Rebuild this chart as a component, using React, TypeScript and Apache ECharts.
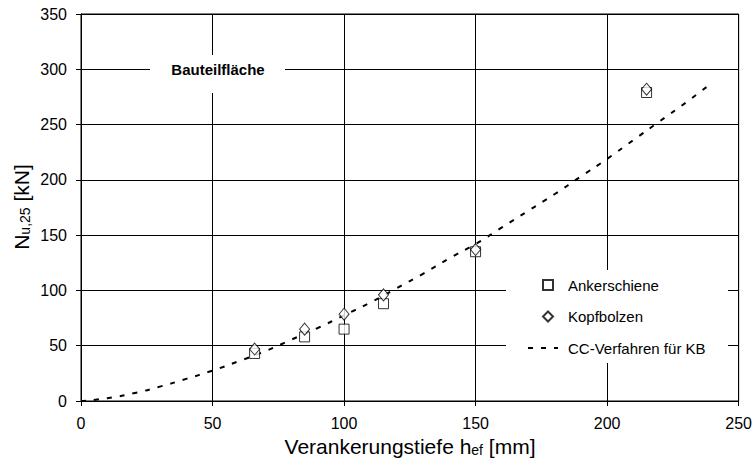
import React, { useEffect, useRef } from "react";
import * as echarts from "echarts";

// Versuchswerte: Verankerungstiefe h_ef [mm] und Bruchlast N_u,25 [kN]
const hefTests = [66, 85, 100, 115, 150, 215];
const ankerschiene = [43, 58, 65, 88, 135, 279];
const kopfbolzen = [47, 65, 78.5, 96, 137, 282];

// Rechnerische Kurve nach CC-Verfahren für Kopfbolzen
const ccHef = [0, 10, 20, 30, 40, 50, 60, 70, 80, 90, 100, 110, 120, 130, 140, 150, 160, 170, 180, 190, 200, 210, 220, 230, 240];
const ccN = [0, 2.5, 7, 13, 20, 27.5, 36, 45, 55.5, 66, 77.5, 89, 102, 115, 129, 142, 157, 172, 187, 203, 219, 236, 253, 270, 288];

const seriesNames = ["Ankerschiene", "Kopfbolzen", "CC-Verfahren für KB"];
const areaLabel = "Bauteilfläche";

const FONT = "'Liberation Sans', Arial, sans-serif";

export default function App() {
  const ref = useRef<HTMLDivElement>(null);

  useEffect(() => {
    document.body.style.margin = "0";
    const chart = echarts.init(ref.current!, null, { renderer: "svg" });

    const pair = (xs: number[], ys: number[]) => xs.map((x, i) => [x, ys[i]]);
    const legendText = { color: "#000", fontSize: 15, fontFamily: FONT, lineHeight: 18 };

    chart.setOption({
      animation: false,
      backgroundColor: "#fff",
      grid: { left: 81, right: 15, top: 14, bottom: 63, show: true, borderColor: "#000", borderWidth: 1 },
      xAxis: {
        type: "value",
        min: 0,
        max: 250,
        interval: 50,
        axisLine: { show: true, lineStyle: { color: "#000", width: 1 } },
        axisTick: { show: true, length: 5, lineStyle: { color: "#000" } },
        axisLabel: { color: "#000", fontSize: 16, fontFamily: FONT, margin: 14 },
        splitLine: { show: true, lineStyle: { color: "#000", width: 1 } },
      },
      yAxis: {
        type: "value",
        min: 0,
        max: 350,
        interval: 50,
        axisLine: { show: true, lineStyle: { color: "#000", width: 1 } },
        axisTick: { show: true, length: 5, lineStyle: { color: "#000" } },
        axisLabel: { color: "#000", fontSize: 16, fontFamily: FONT, margin: 14 },
        splitLine: { show: true, lineStyle: { color: "#000", width: 1 } },
      },
      legend: [
        {
          // Messwerte: kleine Symbole
          orient: "vertical",
          left: 542,
          top: 276,
          padding: 0,
          itemWidth: 10,
          itemHeight: 10,
          itemGap: 13.5,
          data: seriesNames.slice(0, 2),
          textStyle: { ...legendText, padding: [0, 0, 0, 10] },
        },
        {
          // Rechenkurve: gestrichelte Linie
          orient: "vertical",
          left: 527,
          top: 339,
          padding: 0,
          itemWidth: 30,
          itemHeight: 10,
          data: seriesNames.slice(2),
          textStyle: { ...legendText, padding: [0, 0, 0, 5] },
        },
      ],
      series: [
        {
          name: seriesNames[2],
          type: "line",
          smooth: true,
          symbol: "none",
          data: pair(ccHef, ccN),
          itemStyle: { color: "rgba(0,0,0,0)", borderWidth: 0 },
          lineStyle: { color: "#000", width: 2, type: [5, 8] },
          z: 2,
        },
        {
          name: seriesNames[0],
          type: "scatter",
          symbol: "rect",
          symbolSize: 10,
          data: pair(hefTests, ankerschiene),
          itemStyle: { color: "#fff", borderColor: "#000", borderWidth: 1 },
          z: 3,
        },
        {
          name: seriesNames[1],
          type: "scatter",
          symbol: "diamond",
          symbolSize: [10, 12],
          data: pair(hefTests, kopfbolzen),
          itemStyle: { color: "#fff", borderColor: "#000", borderWidth: 1 },
          z: 4,
        },
      ],
      graphic: [
        {
          // Hintergrund der Legende
          type: "rect",
          z: 3,
          shape: { x: 506, y: 270, width: 222, height: 93 },
          style: { fill: "#fff" },
        },
        {
          type: "rect",
          z: 100,
          shape: { x: 150, y: 55, width: 135, height: 38 },
          style: { fill: "#fff" },
        },
        {
          type: "text",
          z: 101,
          x: 218,
          y: 69,
          style: {
            text: areaLabel,
            fill: "#000",
            fontSize: 15,
            fontWeight: "bold",
            fontFamily: FONT,
            align: "center",
            verticalAlign: "middle",
          },
        },
        {
          type: "text",
          z: 100,
          x: 410,
          y: 446,
          style: {
            text: "{a|Verankerungstiefe h}{s|ef}{a| [mm]}",
            align: "center",
            verticalAlign: "middle",
            rich: {
              a: { fontSize: 21, fontFamily: FONT, fill: "#000", lineHeight: 21, verticalAlign: "bottom" },
              s: { fontSize: 14, fontFamily: FONT, fill: "#000", lineHeight: 14, verticalAlign: "bottom" },
            },
          },
        },
        {
          type: "text",
          z: 100,
          x: 21,
          y: 207,
          rotation: Math.PI / 2,
          style: {
            text: "{a|N}{s|u,25}{a| [kN]}",
            align: "center",
            verticalAlign: "middle",
            rich: {
              a: { fontSize: 21, fontFamily: FONT, fill: "#000", lineHeight: 21, verticalAlign: "bottom" },
              s: { fontSize: 14, fontFamily: FONT, fill: "#000", lineHeight: 14, verticalAlign: "bottom" },
            },
          },
        },
      ],
    });

    return () => chart.dispose();
  }, []);

  return (
    <div
      ref={ref}
      style={{ position: "absolute", left: 0, top: 0, width: 755, height: 464, background: "#fff" }}
    />
  );
}
